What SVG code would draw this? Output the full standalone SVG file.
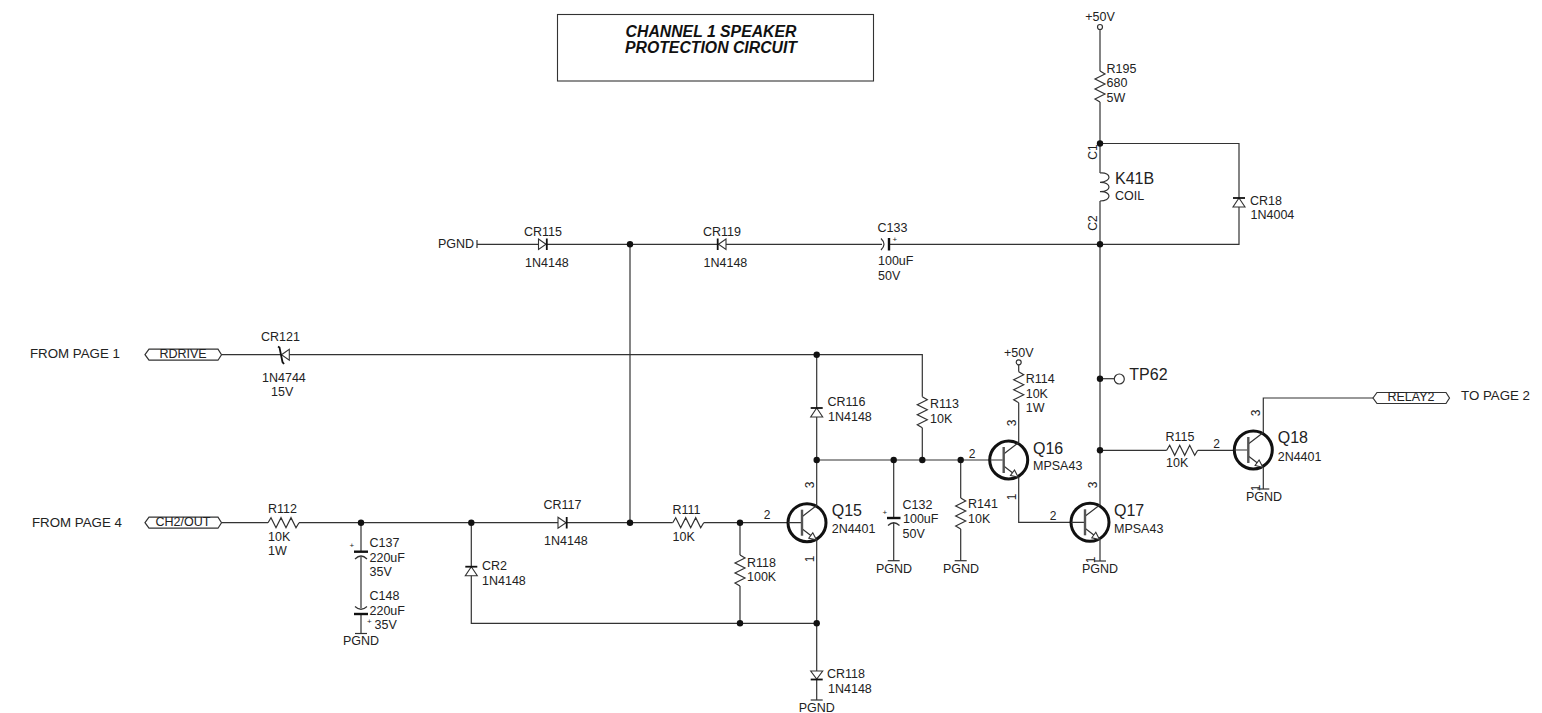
<svg xmlns="http://www.w3.org/2000/svg" xmlns:xlink="http://www.w3.org/1999/xlink" width="1542" height="713" viewBox="0 0 1542 713">
<style>
text{font-family:"Liberation Sans",Arial,sans-serif;font-size:12.5px;fill:#222}
.m{text-anchor:middle}
.big{font-size:16px}
.pg{font-size:13.3px}
.pin{font-size:12px;text-anchor:middle}
.plus{font-size:8px}
.title{font-size:15.8px;font-weight:bold;font-style:italic;text-anchor:middle;fill:#111}
.w{fill:none;stroke:#333;stroke-width:1.2}
.s{fill:none;stroke:#333;stroke-width:1.2;stroke-linejoin:miter}
.d{fill:#fff;stroke:#333;stroke-width:1.1}
.bar{fill:none;stroke:#111;stroke-width:2.4}
.thin{fill:none;stroke:#111;stroke-width:1.8}
.dot{fill:#111;stroke:none}
.o{fill:#fff;stroke:#333;stroke-width:1.2}
</style>
<defs>
<circle id="j" r="3.2" class="dot"/>
<path id="rv" class="s" d="M0 0L5 3L-5 8L5 13L-5 18L5 23L-5 28L0 31"/>
<path id="rh" class="s" d="M0 0L3 -5L8 5L13 -5L18 5L23 -5L28 5L31 0"/>
<path id="gnd" class="s" d="M-6 0H6"/>
<g id="dn"><path class="d" d="M0 0L6 9H-6Z"/><path class="thin" d="M-6 0H6"/></g>
<g id="q">
<circle r="19" fill="#fff" stroke="#111" stroke-width="3"/>
<path class="s" d="M-19 0H-6M-5 -6L10 -17.5M-5 6L10 17.5"/>
<rect x="-6.2" y="-13" width="2.4" height="26" fill="#555"/>
<path class="d" d="M9.500 17.200L1.800 15.500L5.800 10Z"/>
</g>
<path id="off" class="o" d="M0 5.500L4 0H73L76.500 5.500L73 11H4Z"/>
</defs>

<g id="connectors">
<path class="w" d="M1100 29.500V71M1100 102V173M1100 201V507M1100 540V561"/>
<path class="w" d="M1100 143.500H1239V244.300H1100"/>
<path class="w" d="M477 244.300H882M889 244.300H1100"/>
<path class="w" d="M630 244.300V522.700"/>
<path class="w" d="M221.500 354.700H281M289 354.700H922.300V396.700M922.300 427.700V460"/>
<path class="w" d="M816.700 354.700V505M816.700 540V700"/>
<path class="w" d="M816.700 460H990"/>
<path class="w" d="M221.500 522.700H268M299 522.700H672.700M703.700 522.700H788"/>
<path class="w" d="M361 522.700V551M361 557V608M361 614V633"/>
<path class="w" d="M471.300 522.700V623.300H816.700"/>
<path class="w" d="M740 522.700V555M740 586V623.300"/>
<path class="w" d="M893.700 460V518M893.700 523V560.700"/>
<path class="w" d="M960.700 460V498M960.700 529V560.700"/>
<path class="w" d="M1018.700 364.800V371.700M1018.700 402.700V442M1018.700 477V522.300H1071"/>
<path class="w" d="M1100 378.700H1114"/>
<path class="w" d="M1100 450.300H1166.700M1197.700 450.300H1234"/>
<path class="w" d="M1263.300 433V398H1373"/>
<path class="w" d="M1263.300 467V489"/>
</g>

<g id="title-box">
<rect x="557.500" y="14.500" width="316" height="66.500" fill="#fff" stroke="#333" stroke-width="1.100"/>
<text class="title" x="711" y="37">CHANNEL 1 SPEAKER</text>
<text class="title" x="711" y="52.500">PROTECTION CIRCUIT</text>
</g>

<g id="pwr-top"><circle class="o" cx="1100" cy="27" r="2.500"/><text class="m" x="1100" y="21">+50V</text></g>
<g id="R195"><use xlink:href="#rv" x="1100" y="71"/><text x="1106.500" y="72.500">R195</text><text x="1106.500" y="87">680</text><text x="1106.500" y="101.500">5W</text></g>
<g id="K41B"><path class="s" style="fill:#fff" d="M1100 173C1112 172 1112 182 1100 182.300C1112 182 1112 192 1100 191.700C1112 191 1112 201 1100 201"/><text class="big" x="1115" y="184">K41B</text><text x="1115" y="200">COIL</text>
<text class="pin" transform="translate(1097 152) rotate(-90)">C1</text><text class="pin" transform="translate(1097 223) rotate(-90)">C2</text></g>
<g id="CR18"><use xlink:href="#dn" x="1239" y="198"/><text x="1250" y="204.500">CR18</text><text x="1250.500" y="219">1N4004</text></g>

<g id="PGND-top"><path class="s" d="M477 240V248"/><text x="438" y="248">PGND</text></g>
<g id="CR115"><path class="d" d="M538.500 239L546 244.300L538.500 249.500Z"/><path class="thin" d="M546.800 238.500V250"/><text x="524" y="236">CR115</text><text x="525" y="267">1N4148</text></g>
<g id="CR119"><path class="d" d="M726 239L718.500 244.300L726 249.500Z"/><path class="thin" d="M717.700 238.500V250"/><text x="703" y="236">CR119</text><text x="703.500" y="267">1N4148</text></g>
<g id="C133"><path class="s" d="M881 238.500Q887 244.300 881 250"/><path class="bar" d="M889 238V250.500"/><text x="877.500" y="231.700">C133</text><text class="plus" x="892.500" y="242">+</text><text x="878" y="265">100uF</text><text x="878" y="280">50V</text></g>

<g id="RDRIVE"><use xlink:href="#off" x="145" y="349.200"/><text class="m" x="183" y="357.500">RDRIVE</text><text class="pg" x="30" y="358">FROM PAGE 1</text></g>
<g id="CR121"><path class="d" d="M281.500 354.700L289.300 349.200V360.200Z"/><path class="thin" d="M278 346.500L279.500 347.500L282.500 362L284 364"/><text x="261" y="341">CR121</text><text x="262" y="382">1N4744</text><text x="271" y="396">15V</text></g>

<g id="CH2-OUT"><use xlink:href="#off" x="145" y="517.200"/><text class="m" x="183" y="525.500">CH2/OUT</text><text class="pg" x="32" y="527">FROM PAGE 4</text></g>
<g id="R112"><use xlink:href="#rh" x="268" y="522.700"/><text x="268" y="512.700">R112</text><text x="268" y="540.700">10K</text><text x="268" y="555">1W</text></g>
<g id="C137"><path class="bar" d="M354 551.700H368"/><path class="s" d="M355 559Q361 553 367 559"/><text class="plus" x="349.500" y="548">+</text><text x="369.500" y="547">C137</text><text x="369.500" y="562">220uF</text><text x="369.500" y="576">35V</text></g>
<g id="C148"><path class="bar" d="M354 614H368"/><path class="s" d="M355 606.500Q361 612 367 606.500"/><text class="plus" x="367" y="624">+</text><text x="369.500" y="600">C148</text><text x="369.500" y="615">220uF</text><text x="374.500" y="629">35V</text></g>
<g id="PGND-C148"><use xlink:href="#gnd" x="361" y="633.500"/><text class="m" x="361" y="645">PGND</text></g>

<g id="CR2"><use xlink:href="#dn" x="471.300" y="566.700"/><text x="482" y="570">CR2</text><text x="482" y="585">1N4148</text></g>
<g id="CR117"><path class="d" d="M558 517.200L566 522.700L558 528.200Z"/><path class="thin" d="M566.700 517V528.500"/><text x="543.500" y="509">CR117</text><text x="544" y="545">1N4148</text></g>
<g id="R111"><use xlink:href="#rh" x="672.700" y="522.700"/><text x="672.500" y="514">R111</text><text x="672.500" y="541">10K</text></g>
<g id="R118"><use xlink:href="#rv" x="740" y="555"/><text x="747" y="567">R118</text><text x="747" y="581">100K</text></g>
<g id="CR118"><path class="d" d="M810.700 671H822.700L816.700 679Z"/><path class="thin" d="M810.700 679.500H822.700"/><text x="827" y="678">CR118</text><text x="828" y="693">1N4148</text></g>
<g id="PGND-CR118"><use xlink:href="#gnd" x="816.700" y="700"/><text class="m" x="816.700" y="711.500">PGND</text></g>

<g id="Q15"><use xlink:href="#q" x="807" y="522.700"/><text class="big" x="831.700" y="515.700">Q15</text><text x="831.700" y="532.700">2N4401</text><text class="pin" x="767" y="519">2</text><text class="pin" transform="translate(813.500 485) rotate(-90)">3</text><text class="pin" transform="translate(813.500 559) rotate(-90)">1</text></g>
<g id="CR116"><use xlink:href="#dn" x="816.700" y="408"/><text x="827.500" y="406">CR116</text><text x="828" y="421">1N4148</text></g>
<g id="R113"><use xlink:href="#rv" x="922.300" y="396.700"/><text x="930" y="407.700">R113</text><text x="930" y="423">10K</text></g>
<g id="C132"><path class="bar" d="M887 518H900.500"/><path class="s" d="M888 525.500Q893.700 520 899.500 525.500"/><text class="plus" x="882.500" y="515">+</text><text x="902.500" y="509">C132</text><text x="903" y="523">100uF</text><text x="902.500" y="538">50V</text></g>
<g id="PGND-C132"><use xlink:href="#gnd" x="893.700" y="560.700"/><text class="m" x="894" y="572.700">PGND</text></g>
<g id="R141"><use xlink:href="#rv" x="960.700" y="498"/><text x="968" y="508">R141</text><text x="968" y="523">10K</text></g>
<g id="PGND-R141"><use xlink:href="#gnd" x="960.700" y="560.700"/><text class="m" x="961" y="572.700">PGND</text></g>
<g id="pwr-R114"><circle class="o" cx="1018.700" cy="362.300" r="2.500"/><text class="m" x="1018.700" y="356.700">+50V</text></g>
<g id="R114"><use xlink:href="#rv" x="1018.700" y="371.700"/><text x="1025.700" y="383">R114</text><text x="1025.700" y="398">10K</text><text x="1025.700" y="412">1W</text></g>
<g id="Q16"><use xlink:href="#q" x="1008.700" y="460"/><text class="big" x="1033" y="454">Q16</text><text x="1033" y="470">MPSA43</text><text class="pin" x="972" y="457.500">2</text><text class="pin" transform="translate(1015.500 423) rotate(-90)">3</text><text class="pin" transform="translate(1015.500 497) rotate(-90)">1</text></g>
<g id="Q17"><use xlink:href="#q" x="1090" y="522.300"/><text class="big" x="1114" y="516">Q17</text><text x="1114" y="533">MPSA43</text><text class="pin" x="1053" y="520">2</text><text class="pin" transform="translate(1097 485) rotate(-90)">3</text><text class="pin" transform="translate(1095 560) rotate(-90)">1</text></g>
<g id="PGND-Q17"><use xlink:href="#gnd" x="1100" y="561"/><text class="m" x="1100" y="572.700">PGND</text></g>
<g id="TP62"><circle class="o" cx="1119.300" cy="379" r="5"/><text class="big" x="1129.300" y="380">TP62</text></g>
<g id="R115"><use xlink:href="#rh" x="1166.700" y="450.300"/><text x="1165.500" y="441">R115</text><text x="1166" y="467">10K</text></g>
<g id="Q18"><use xlink:href="#q" x="1253.300" y="450"/><text class="big" x="1277.700" y="443">Q18</text><text x="1277.700" y="460.700">2N4401</text><text class="pin" x="1216.500" y="447.500">2</text><text class="pin" transform="translate(1260 413) rotate(-90)">3</text><text class="pin" transform="translate(1260 488) rotate(-90)">1</text></g>
<g id="PGND-Q18"><use xlink:href="#gnd" x="1263.300" y="489"/><text class="m" x="1264" y="500.700">PGND</text></g>
<g id="RELAY2"><use xlink:href="#off" x="1373" y="392.500"/><text class="m" x="1411" y="401">RELAY2</text><text class="pg" x="1461" y="400">TO PAGE 2</text></g>

<g id="junctions">
<use xlink:href="#j" x="1100" y="143.500"/><use xlink:href="#j" x="1100" y="244.300"/><use xlink:href="#j" x="630" y="244.300"/>
<use xlink:href="#j" x="816.700" y="354.700"/><use xlink:href="#j" x="1100" y="378.700"/><use xlink:href="#j" x="1100" y="450.300"/>
<use xlink:href="#j" x="816.700" y="460"/><use xlink:href="#j" x="893.700" y="460"/><use xlink:href="#j" x="922.300" y="460"/><use xlink:href="#j" x="960.700" y="460"/>
<use xlink:href="#j" x="361" y="522.700"/><use xlink:href="#j" x="471.300" y="522.700"/><use xlink:href="#j" x="630" y="522.700"/><use xlink:href="#j" x="740" y="522.700"/>
<use xlink:href="#j" x="740" y="623.300"/><use xlink:href="#j" x="816.700" y="623.300"/>
</g>
</svg>
